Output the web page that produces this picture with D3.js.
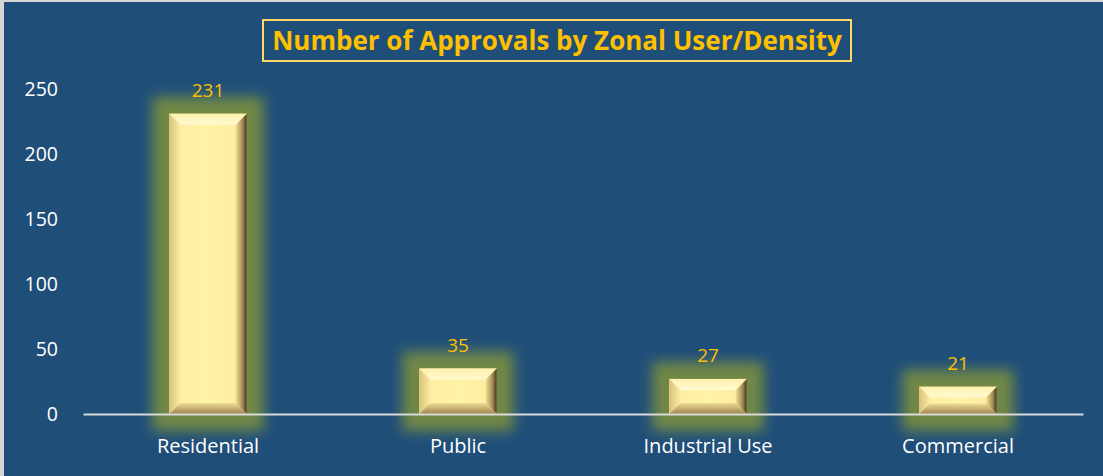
<!DOCTYPE html>
<html>
<head>
<meta charset="utf-8">
<script src="https://cdn.jsdelivr.net/npm/d3@7"></script>
<style>
  html, body { margin: 0; padding: 0; background: #d9d9d9; }
  svg { display: block; }
</style>
</head>
<body>
<div id="chart"></div>
<script>
// chart data
const categories = ['Residential', 'Public', 'Industrial Use', 'Commercial'];
const approvals = [231, 35, 27, 21];
const yTicks = [0, 50, 100, 150, 200, 250];
const chartTitle = 'Number of Approvals by Zonal User/Density';

const WIDTH = 1103;
const HEIGHT = 476;
const margin = { top: 89, right: 20, bottom: 62, left: 83 };

const svg = d3.select('#chart').append('svg')
    .attr('width', WIDTH)
    .attr('height', HEIGHT);

// panel background with the light frame on the left/top edges
svg.append('rect')
    .attr('x', 0).attr('y', 0)
    .attr('width', WIDTH).attr('height', HEIGHT)
    .attr('fill', '#d6d6d6');
svg.append('rect')
    .attr('x', 4).attr('y', 2)
    .attr('width', WIDTH - 4).attr('height', HEIGHT - 2)
    .attr('fill', '#1f4e79');

const defs = svg.append('defs');

// soft olive glow around each bar
const glow = defs.append('filter')
    .attr('id', 'glow')
    .attr('x', '-100%').attr('y', '-100%')
    .attr('width', '300%').attr('height', '300%');
glow.append('feMorphology')
    .attr('in', 'SourceAlpha')
    .attr('operator', 'dilate')
    .attr('radius', 17)
    .attr('result', 'fat');
glow.append('feGaussianBlur')
    .attr('in', 'fat')
    .attr('stdDeviation', 6.5)
    .attr('result', 'blur');
glow.append('feFlood')
    .attr('flood-color', '#718845');
glow.append('feComposite')
    .attr('in2', 'blur')
    .attr('operator', 'in');

function addGrad(id, horizontal, stops) {
    const g = defs.append('linearGradient')
        .attr('id', id)
        .attr('x1', 0).attr('y1', 0)
        .attr('x2', horizontal ? 1 : 0)
        .attr('y2', horizontal ? 0 : 1);
    stops.forEach(s => g.append('stop').attr('offset', s[0]).attr('stop-color', s[1]));
}
addGrad('face', true, [['0%', '#fdeea0'], ['50%', '#fff3a8'], ['100%', '#fcec9f']]);
addGrad('bevTop', false, [['0%', '#fff0ac'], ['100%', '#fffad2']]);
addGrad('bevLeft', true, [['0%', '#d9c37c'], ['100%', '#fbeba2']]);
addGrad('bevRight', true, [['0%', '#f2df95'], ['60%', '#a58e55'], ['100%', '#3f3322']]);
addGrad('bevBottom', false, [['0%', '#efdc92'], ['100%', '#9c8550']]);

const x = d3.scaleBand()
    .domain(categories)
    .range([margin.left, WIDTH - margin.right])
    .paddingInner(0.69)
    .paddingOuter(0.345);

const y = d3.scaleLinear()
    .domain([0, 250])
    .range([HEIGHT - margin.bottom, margin.top]);

// title box
const titleG = svg.append('g');
titleG.append('rect')
    .attr('x', 263).attr('y', 20)
    .attr('width', 588).attr('height', 41)
    .attr('fill', 'none')
    .attr('stroke', '#ffd966')
    .attr('stroke-width', 2);
titleG.append('text')
    .attr('x', 557).attr('y', 50)
    .attr('text-anchor', 'middle')
    .attr('fill', '#ffc000')
    .style('font-family', '"Open Sans", sans-serif')
    .style('font-weight', 700)
    .style('font-size', '26px')
    .text(chartTitle);

// y axis labels (no axis line)
const yAxis = svg.append('g')
    .attr('transform', `translate(${margin.left},0)`)
    .call(d3.axisLeft(y).tickValues(yTicks).tickSize(0).tickPadding(25));
yAxis.select('.domain').remove();
yAxis.selectAll('text')
    .attr('fill', '#ffffff')
    .style('font-family', '"Open Sans", sans-serif')
    .style('font-size', '19.5px');

// bars
const bars = svg.append('g')
    .selectAll('g')
    .data(categories.map((c, i) => ({ cat: c, value: approvals[i] })))
    .join('g');

bars.append('rect')
    .attr('x', d => x(d.cat))
    .attr('y', d => y(d.value))
    .attr('width', x.bandwidth())
    .attr('height', d => y(0) - y(d.value))
    .attr('fill', '#000')
    .attr('filter', 'url(#glow)');

// bevelled face built from the bar geometry
const bev = 11;
bars.each(function(d) {
    const g = d3.select(this);
    const x0 = x(d.cat);
    const x1 = x0 + x.bandwidth();
    const y0 = y(d.value);
    const y1 = y(0);
    const b = Math.min(bev, (y1 - y0) / 2.6);
    const pts = arr => arr.map(p => p.join(',')).join(' ');
    g.append('rect')
        .attr('x', x0).attr('y', y0)
        .attr('width', x1 - x0).attr('height', y1 - y0)
        .attr('fill', 'url(#face)');
    g.append('polygon')
        .attr('points', pts([[x0, y0], [x1, y0], [x1 - b, y0 + b], [x0 + b, y0 + b]]))
        .attr('fill', 'url(#bevTop)');
    g.append('polygon')
        .attr('points', pts([[x0, y0], [x0 + b, y0 + b], [x0 + b, y1 - b], [x0, y1]]))
        .attr('fill', 'url(#bevLeft)');
    g.append('polygon')
        .attr('points', pts([[x1, y0], [x1, y1], [x1 - b, y1 - b], [x1 - b, y0 + b]]))
        .attr('fill', 'url(#bevRight)');
    g.append('polygon')
        .attr('points', pts([[x0, y1], [x1, y1], [x1 - b, y1 - b], [x0 + b, y1 - b]]))
        .attr('fill', 'url(#bevBottom)');
});

// value labels
bars.append('text')
    .attr('x', d => x(d.cat) + x.bandwidth() / 2)
    .attr('y', d => y(d.value) - 17)
    .attr('text-anchor', 'middle')
    .attr('fill', '#ffc000')
    .style('font-family', '"Open Sans", sans-serif')
    .style('font-size', '19px')
    .text(d => d.value);

// baseline / x axis
const xAxis = svg.append('g')
    .attr('transform', `translate(0,${y(0)})`)
    .call(d3.axisBottom(x).tickSize(0).tickPadding(25));
xAxis.select('.domain')
    .attr('stroke', '#d9d9d9')
    .attr('stroke-width', 2);
xAxis.selectAll('text')
    .attr('fill', '#ffffff')
    .style('font-family', '"Open Sans", sans-serif')
    .style('font-size', '20px');
</script>
</body>
</html>
